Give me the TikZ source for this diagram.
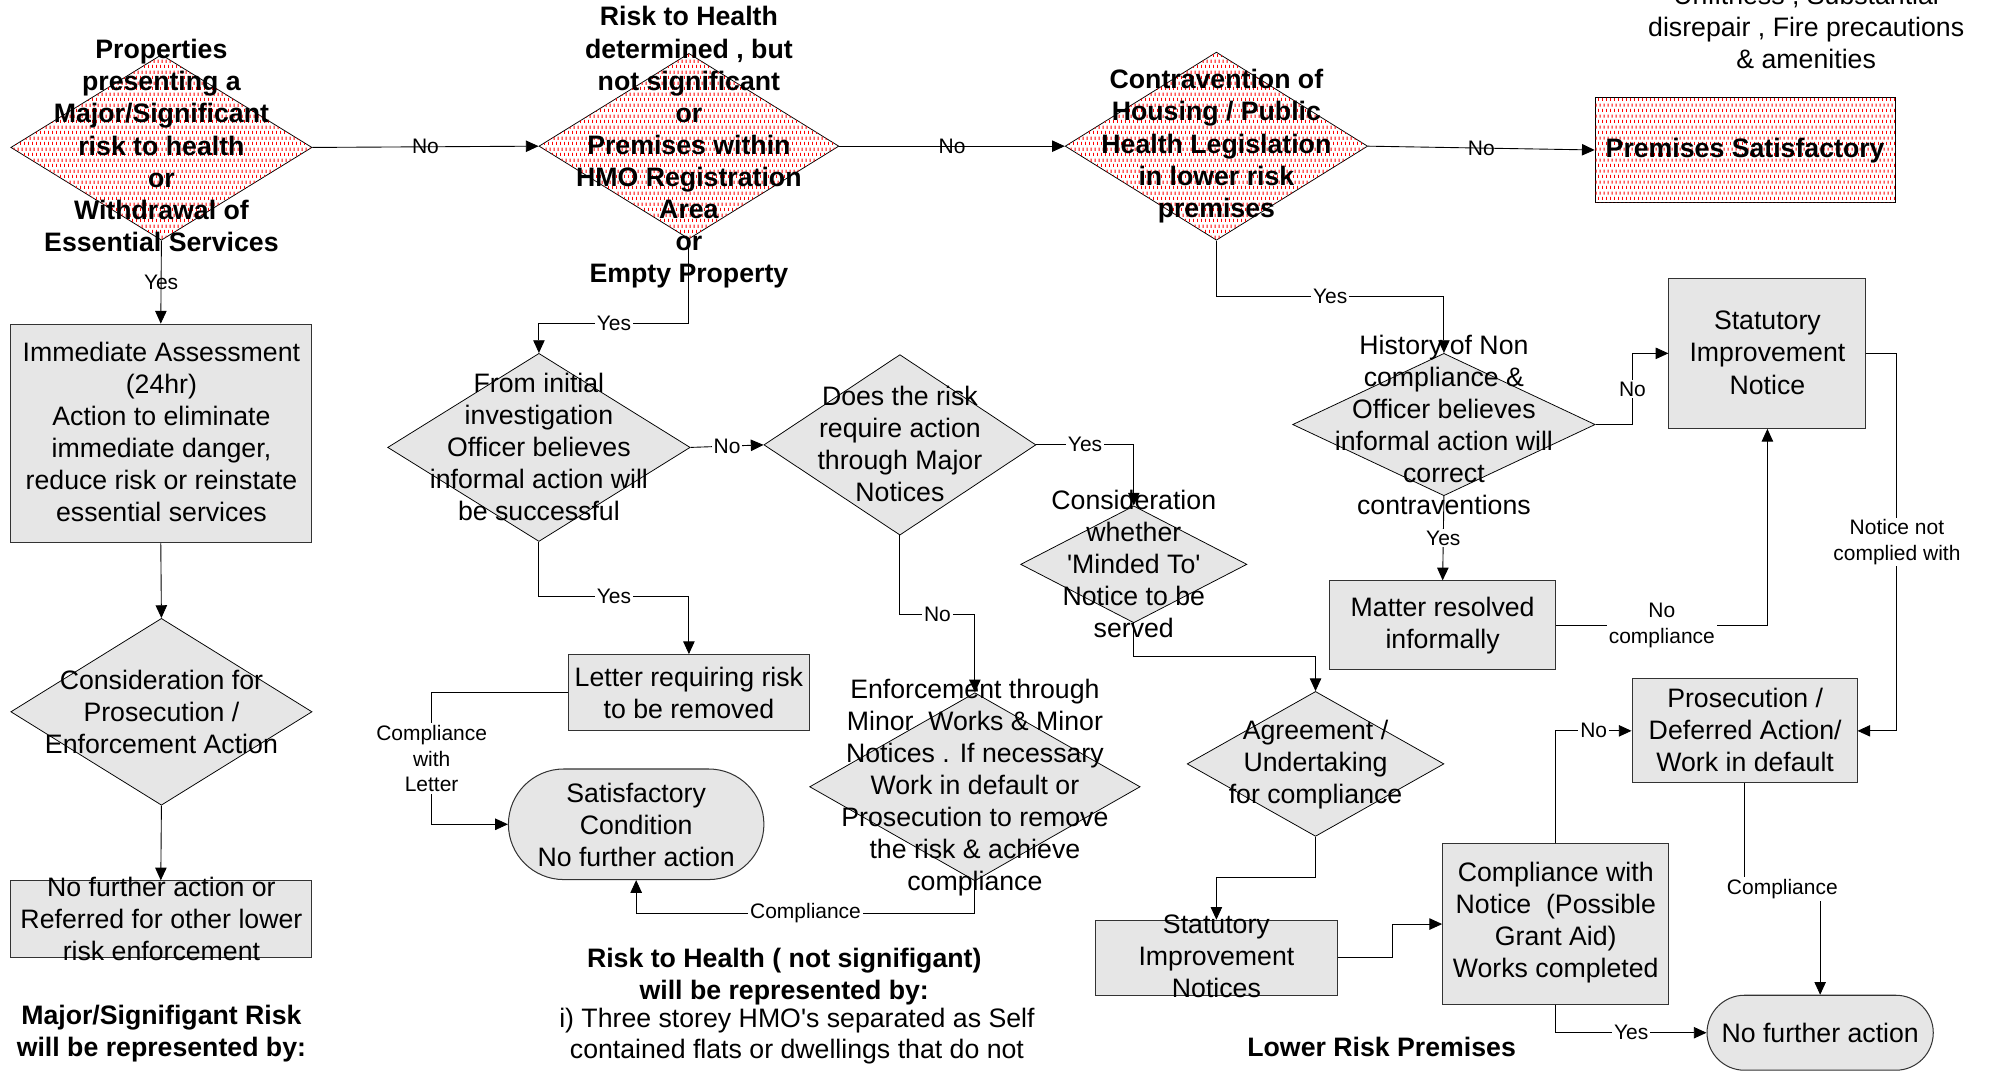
\documentclass[tikz,border=0pt]{standalone}
\usepackage{fontspec}
\setmainfont{Liberation Sans}[Ligatures=TeXOff]
\usetikzlibrary{shapes.geometric,shapes.misc,arrows.meta,patterns}

\definecolor{boxgray}{HTML}{E6E6E6}
\definecolor{edge}{HTML}{333333}

% staggered red dash pattern for the hazard shapes
\pgfdeclarepatternformonly{reddots}{\pgfqpoint{0pt}{0pt}}{\pgfqpoint{3.2pt}{8.8pt}}{\pgfqpoint{3.2pt}{8.8pt}}{%
  \pgfpathrectangle{\pgfqpoint{0pt}{0pt}}{\pgfqpoint{0.9pt}{2.6pt}}%
  \pgfpathrectangle{\pgfqpoint{1.6pt}{4.4pt}}{\pgfqpoint{0.9pt}{2.6pt}}%
  \pgfusepath{fill}}

\tikzset{
  reddia/.style={diamond, draw=black, line width=0.6pt, fill=white,
    postaction={pattern=reddots, pattern color=red}, inner sep=0pt},
  redbox/.style={rectangle, draw=black, line width=0.8pt, fill=white,
    postaction={pattern=reddots, pattern color=red}, inner sep=0pt},
  graydia/.style={diamond, draw=black, line width=0.6pt, fill=boxgray, inner sep=0pt},
  graybox/.style={rectangle, draw=edge, line width=0.8pt, fill=boxgray, inner sep=0pt},
  pill/.style={rounded rectangle, draw=edge, line width=0.8pt, fill=boxgray, inner sep=0pt},
  txt/.style={align=center, font=\fontsize{21}{25.25}\selectfont, inner sep=0pt},
  btxt/.style={align=center, font=\fontsize{21}{25.25}\selectfont\bfseries, inner sep=0pt},
  lbl/.style={font=\fontsize{16.5}{20}\selectfont, fill=white, inner sep=1.5pt, align=center},
  lbln/.style={font=\fontsize{16.5}{20}\selectfont, inner sep=0pt},
  flow/.style={draw, line width=0.7pt, -{Triangle[length=10pt,width=9pt]}},
  link/.style={draw, line width=0.7pt},
}

\begin{document}
\begin{tikzpicture}[x=1pt, y=-1pt]
\useasboundingbox (0,0) rectangle (1568,843);

% ---------- shapes ----------
\node[reddia, minimum width=237, minimum height=146] (A) at (127,116) {};
\node[reddia, minimum width=236, minimum height=146] (B) at (542,115) {};
\node[reddia, minimum width=238, minimum height=148] (C) at (957,115) {};
\node[redbox, minimum width=236, minimum height=82] (Sat) at (1373,118) {};

\node[graybox, minimum width=237, minimum height=172] (Imm) at (126.5,341) {};
\node[graydia, minimum width=237, minimum height=147] (D) at (127,560) {};
\node[graybox, minimum width=237, minimum height=60] (E) at (126.5,723) {};

\node[graydia, minimum width=238, minimum height=148] (F) at (424,352) {};
\node[graydia, minimum width=214, minimum height=142] (G) at (708,350) {};
\node[graydia, minimum width=178, minimum height=92] (H) at (892,444) {};
\node[graydia, minimum width=202, minimum height=114] (I) at (1035,601) {};
\node[graybox, minimum width=190, minimum height=59] (J) at (957,753.5) {};
\node[graybox, minimum width=178, minimum height=126] (K) at (1224,727) {};
\node[graybox, minimum width=177, minimum height=82] (L) at (1372.5,575) {};
\node[pill, minimum width=178, minimum height=59] (M) at (1432,812.5) {};
\node[graydia, minimum width=238, minimum height=112] (N) at (1136,334) {};
\node[graybox, minimum width=155, minimum height=118] (O) at (1390.5,278) {};
\node[graybox, minimum width=178, minimum height=70] (P) at (1135,492) {};
\node[graydia, minimum width=260, minimum height=148] (Q) at (767,619) {};
\node[pill, minimum width=201, minimum height=87] (R) at (500.5,648.5) {};
\node[graybox, minimum width=190, minimum height=60] (S) at (542,545) {};

% ---------- connectors ----------
\draw[flow] (A.east) -- node[lbln]{No} (B.west);
\draw[flow] (B.east) -- node[lbln]{No} (C.west);
\draw[flow] (C.east) -- node[lbln]{No} (Sat.west);
\draw[flow] (A.south) -- node[lbln]{Yes} (Imm.north);
\draw[flow] (Imm.south) -- (D.north);
\draw[flow] (D.south) -- (E.north);

\draw[flow] (B.south) -- ++(0,66) -| node[lbl,pos=0.25]{Yes} (F.north);
\draw[flow] (F.east) -- node[lbl]{No} (G.west);
\draw[flow] (G.east) -| node[lbl,pos=0.25]{Yes} (H.north);
\draw[flow] (H.south) -- ++(0,26) -| (I.north);
\draw[flow] (I.south) -- ++(0,32) -| (J.north);
\draw[flow] (J.east) -- ++(43,0) |- (K.west);
\draw[flow] (K.north) |- node[lbl,pos=0.75]{No} (L.west);
\draw[flow] (K.south) |- node[lbl,pos=0.75]{Yes} (M.west);
\draw[flow] (L.south) -- ++(0,83) -| node[lbl,pos=0.25]{Compliance} (M.north);

\draw[flow] (C.south) -- ++(0,44) -| node[lbl,pos=0.25]{Yes} (N.north);
\draw[flow] (N.east) -- ++(29,0) |- node[lbl,pos=0.25]{No} (O.west);
\draw[flow] (N.south) -- node[lbl]{Yes} (P.north);
\draw[flow] (P.east) -| node[lbl,pos=0.25]{No\\compliance} (O.south);
\draw[flow] (O.east) -- ++(24,0) |- node[lbl,pos=0.25]{Notice not\\complied with} (L.east);

\draw[flow] (G.south) -- ++(0,62) -| node[lbl,pos=0.25]{No} (Q.north);
\draw[flow] (Q.south) -- ++(0,25) -| node[lbl,pos=0.25]{Compliance} (R.south);
\draw[flow] (F.south) -- ++(0,43) -| node[lbl,pos=0.25]{Yes} (S.north);
\draw[flow] (S.west) -- ++(-107,0) |- node[lbl,pos=0.25]{Compliance\\with\\Letter} (R.west);

% ---------- texts ----------
\node[btxt] (At) at (127,114.5) {Properties\\presenting a\\Major/Significant\\risk to health\\or\\Withdrawal of\\Essential Services};
\node[btxt] (Bt) at (542,116) {Risk to Health\\determined , but\\not significant\\or\\Premises within\\HMO Registration\\Area\\or\\Empty Property};
\node[btxt] (Ct) at (957,115) {Contravention of\\Housing / Public\\Health Legislation\\in lower risk\\premises};
\node[btxt] (Satt) at (1373,118.5) {Premises Satisfactory};
\node[txt] (note) at (1421,21) {Unfitness , Substantial\\disrepair , Fire precautions\\\& amenities};

\node[txt] (Immt) at (127,340) {Immediate Assessment\\(24hr)\\Action to eliminate\\immediate danger,\\reduce risk or reinstate\\essential services};
\node[txt] (Dt) at (127,560) {Consideration for\\Prosecution /\\Enforcement Action};
\node[txt] (Et) at (127,723) {No further action or\\Referred for other lower\\risk enforcement};
\node[btxt] (leftnote) at (127,813) {Major/Signifigant Risk\\will be represented by:};

\node[txt] (Ft) at (424,351.5) {From initial\\investigation\\Officer believes\\informal action will\\be successful};
\node[txt] (Gt) at (708,349) {Does the risk\\require action\\through Major\\Notices};
\node[txt] (Ht) at (892,443.5) {Consideration\\whether\\'Minded To'\\Notice to be\\served};
\node[txt] (It) at (1035,601.5) {Agreement /\\Undertaking\\for compliance};
\node[txt] (Jt) at (957,752.5) {Statutory\\Improvement\\Notices};
\node[txt] (Kt) at (1224,726) {Compliance with\\Notice~~(Possible\\Grant Aid)\\Works completed};
\node[txt] (Lt) at (1373,574.5) {Prosecution /\\Deferred Action/\\Work in default};
\node[txt] (Mt) at (1432,813) {No further action};
\node[txt] (Nt) at (1136,334.5) {History of Non\\compliance \&\\Officer believes\\informal action will\\correct\\contraventions};
\node[txt] (Ot) at (1390.5,277.5) {Statutory\\Improvement\\Notice};
\node[txt] (Pt) at (1135,492.5) {Matter resolved\\informally};
\node[txt] (Qt) at (767,619.5) {Enforcement through\\Minor~~Works \& Minor\\Notices . If necessary\\Work in default or\\Prosecution to remove\\the risk \& achieve\\compliance};
\node[txt] (Rt) at (500.5,649) {Satisfactory\\Condition\\No further action};
\node[txt] (St) at (542,545) {Letter requiring risk\\to be removed};

\node[btxt] (midnote) at (617,768.5) {Risk to Health ( not signifigant)\\will be represented by:};
\node[txt, font=\fontsize{21}{24}\selectfont] (midlist) at (627,815) {i) Three storey HMO's separated as Self\\contained flats or dwellings that do not};
\node[btxt] (rightnote) at (1087,824) {Lower Risk Premises};
\end{tikzpicture}
\end{document}
